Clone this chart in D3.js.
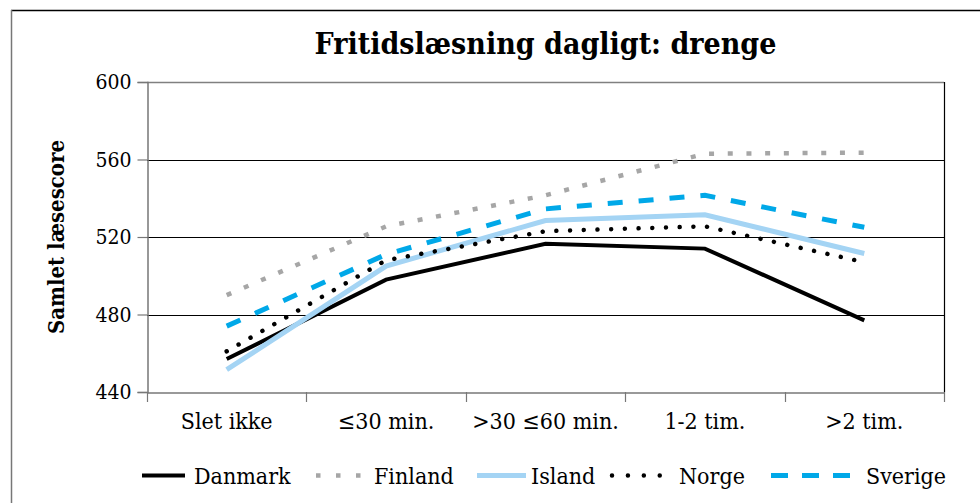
<!DOCTYPE html>
<html>
<head>
<meta charset="utf-8">
<script src="https://cdn.jsdelivr.net/npm/d3@7"></script>
<style>
  html, body { margin: 0; padding: 0; background: #fff; }
  svg { display: block; }
  text { font-family: "DejaVu Serif Condensed", "DejaVu Serif", serif; font-stretch: condensed; fill: #000; }
</style>
</head>
<body>
<svg id="chart"></svg>
<script>
const categories = ["Slet ikke", "\u226430 min.", ">30 \u226460 min.", "1-2 tim.", ">2 tim."];
const yTicks = [440, 480, 520, 560, 600];

const danmark = [457, 498, 516.5, 514, 477];
const finland = [490, 525.5, 541.5, 563, 563.5];
const island = [451.5, 505, 528.5, 531.5, 511.5];
const norge = [461, 508, 523, 525.5, 507];
const sverige = [474, 511, 534.5, 541.5, 525];

const series = [
    { name: "Danmark", values: danmark, color: "#000", width: 4, dash: null, legendDash: null, cap: "butt" },
    { name: "Finland", values: finland, color: "#a6a6a6", width: 4.5, dash: "5,13.7", legendDash: "4.5,15.5", cap: "butt" },
    { name: "Island", values: island, color: "#a4d4f4", width: 5, dash: null, legendDash: null, cap: "butt" },
    { name: "Norge", values: norge, color: "#000", width: 4.5, dash: "0.01,13.7", legendDash: "0.01,15.9", cap: "round" },
    { name: "Sverige", values: sverige, color: "#00a8e8", width: 5, dash: "15,16", legendDash: "17,14", cap: "butt" }
];

// legend layout (sample start, sample end, text start)
const legendSampleX = [142, 316, 477, 610, 771];
const legendSampleEnd = [185, 361, 526, 661, 852];
const legendTextX = [194, 374, 531, 679, 866];

const width = 980;
const height = 503;
const margin = { top: 82, right: 36, bottom: 111, left: 147 };

const svg = d3.select("#chart")
    .attr("width", width)
    .attr("height", height);

// outer frame
svg.append("line").attr("x1", 11).attr("x2", width).attr("y1", 10.5).attr("y2", 10.5)
    .attr("stroke", "#000").attr("stroke-width", 1.5);
svg.append("line").attr("x1", 11.5).attr("x2", 11.5).attr("y1", 10).attr("y2", height)
    .attr("stroke", "#777").attr("stroke-width", 1.5);

const xScale = d3.scaleBand()
    .domain(categories)
    .range([margin.left, width - margin.right]);

const yScale = d3.scaleLinear()
    .domain([440, 600])
    .range([height - margin.bottom, margin.top]);

const plotRight = width - margin.right;
const plotBottom = height - margin.bottom;

// gridlines
svg.append("g")
    .selectAll("line")
    .data(yTicks.filter(t => t > 440 && t < 600))
    .enter()
    .append("line")
    .attr("x1", margin.left)
    .attr("x2", plotRight)
    .attr("y1", d => Math.round(yScale(d)) + 0.5)
    .attr("y2", d => Math.round(yScale(d)) + 0.5)
    .attr("stroke", "#000")
    .attr("stroke-width", 1.2);

// plot frame: top grey, right black
svg.append("line").attr("x1", margin.left).attr("x2", plotRight)
    .attr("y1", margin.top + 0.5).attr("y2", margin.top + 0.5)
    .attr("stroke", "#808080").attr("stroke-width", 1.5);
svg.append("line").attr("x1", plotRight + 0.5).attr("x2", plotRight + 0.5)
    .attr("y1", margin.top).attr("y2", plotBottom)
    .attr("stroke", "#000").attr("stroke-width", 1.2);

// y axis
const yAxis = svg.append("g")
    .attr("transform", `translate(${margin.left + 0.5}, 0)`)
    .call(d3.axisLeft(yScale).tickValues(yTicks).tickSize(10).tickPadding(6));
yAxis.select(".domain").attr("stroke", "#777").attr("stroke-width", 1.5);
yAxis.selectAll(".tick line").attr("stroke", "#777").attr("stroke-width", 1.2);
yAxis.selectAll(".tick text")
    .style("font-size", "21px")
    .attr("fill", "#000");

// x axis
const xAxis = svg.append("g")
    .attr("transform", `translate(0, ${plotBottom + 0.5})`)
    .call(d3.axisBottom(xScale).tickSize(0).tickPadding(20));
xAxis.select(".domain").attr("stroke", "#777").attr("stroke-width", 1.5);
xAxis.selectAll(".tick text")
    .style("font-size", "23px")
    .attr("fill", "#000");
svg.selectAll("g").attr("font-family", null);

// x boundary ticks
const bounds = categories.map(c => xScale(c)).concat([plotRight]);
svg.append("g")
    .selectAll("line")
    .data(bounds)
    .enter()
    .append("line")
    .attr("x1", d => Math.round(d) + 0.5)
    .attr("x2", d => Math.round(d) + 0.5)
    .attr("y1", plotBottom)
    .attr("y2", plotBottom + 10)
    .attr("stroke", "#777")
    .attr("stroke-width", 1.2);

// title
svg.append("text")
    .attr("x", (margin.left + plotRight) / 2)
    .attr("y", 53.5)
    .attr("text-anchor", "middle")
    .style("font-size", "30px")
    .style("font-weight", "bold")
    .text("Fritidsl\u00e6sning dagligt: drenge");

// y label
svg.append("text")
    .attr("transform", `translate(64, ${(margin.top + plotBottom) / 2}) rotate(-90)`)
    .attr("text-anchor", "middle")
    .style("font-size", "22px")
    .style("font-weight", "bold")
    .text("Samlet l\u00e6sescore");

// lines
const line = d3.line()
    .x((d, i) => xScale(categories[i]) + xScale.bandwidth() / 2)
    .y(d => yScale(d));

svg.append("g")
    .selectAll("path")
    .data(series)
    .enter()
    .append("path")
    .attr("d", d => line(d.values))
    .attr("fill", "none")
    .attr("stroke", d => d.color)
    .attr("stroke-width", d => d.width)
    .attr("stroke-dasharray", d => d.dash)
    .attr("stroke-linecap", d => d.cap)
    .attr("stroke-linejoin", "miter");

// legend
const legendY = 475.5;
const legend = svg.append("g")
    .selectAll("g")
    .data(series)
    .enter()
    .append("g");

legend.append("line")
    .attr("x1", (d, i) => d.cap === "round" ? legendSampleX[i] + 2 : legendSampleX[i])
    .attr("x2", (d, i) => legendSampleEnd[i])
    .attr("y1", legendY)
    .attr("y2", legendY)
    .attr("stroke", d => d.color)
    .attr("stroke-width", d => d.width)
    .attr("stroke-dasharray", d => d.legendDash)
    .attr("stroke-linecap", d => d.cap);

legend.append("text")
    .attr("x", (d, i) => legendTextX[i])
    .attr("y", 484)
    .style("font-size", "23px")
    .text(d => d.name);
</script>
</body>
</html>
